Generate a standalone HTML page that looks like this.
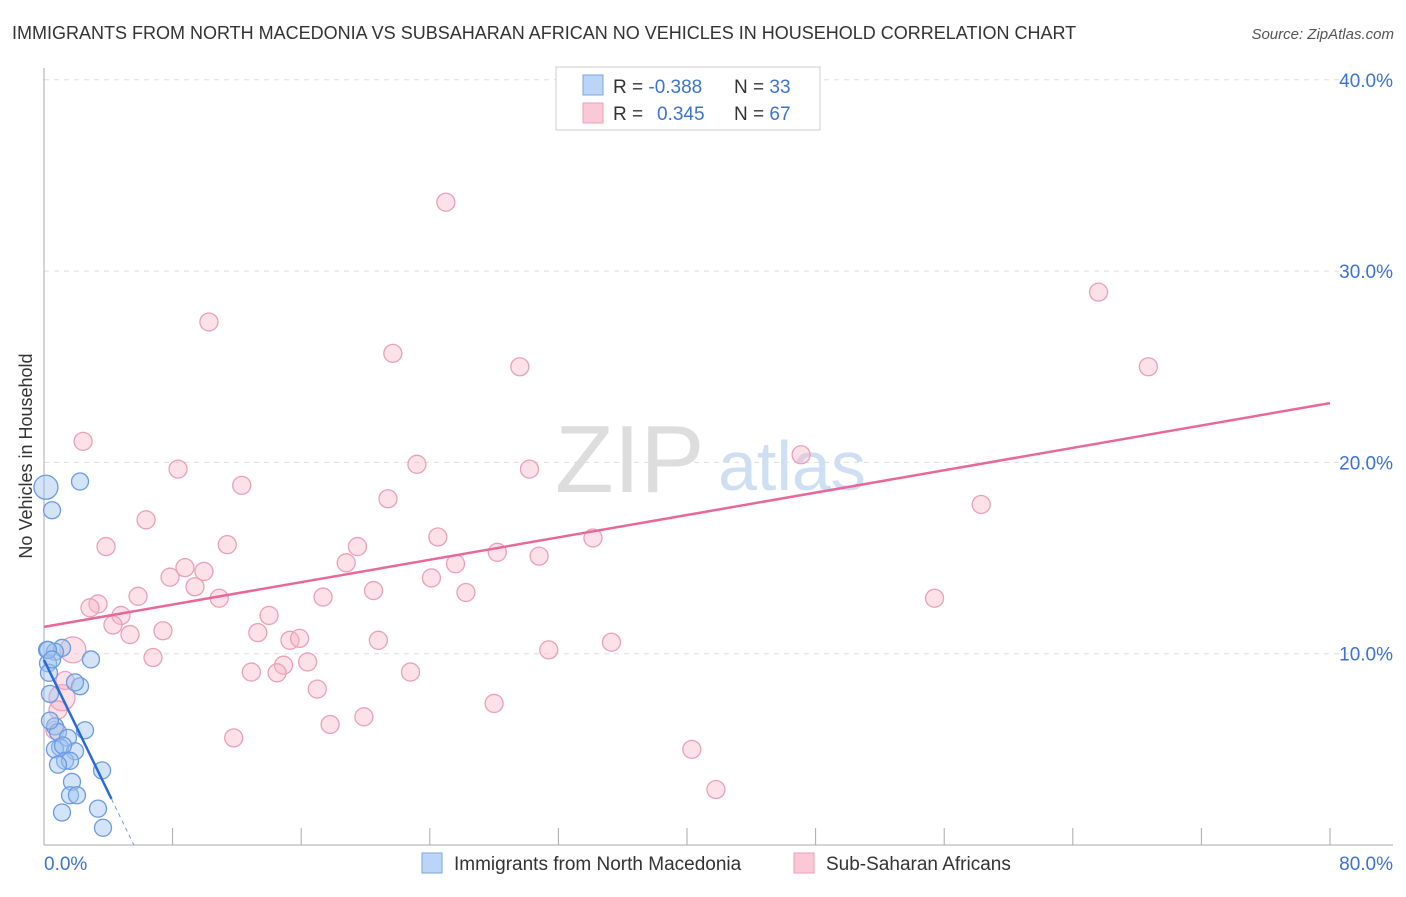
<!DOCTYPE html>
<html><head><meta charset="utf-8"><style>
body{margin:0;background:#fff;font-family:"Liberation Sans",sans-serif;}
svg text{font-family:"Liberation Sans",sans-serif;}
</style></head><body>
<svg id="chart" width="1406" height="892">
<text x="12" y="39" font-size="18" fill="#333">IMMIGRANTS FROM NORTH MACEDONIA VS SUBSAHARAN AFRICAN NO VEHICLES IN HOUSEHOLD CORRELATION CHART</text>
<text x="1394" y="39" font-size="15" fill="#555" font-style="italic" text-anchor="end">Source: ZipAtlas.com</text>
<text x="32" y="456" font-size="18" fill="#333" text-anchor="middle" transform="rotate(-90 32 456)">No Vehicles in Household</text>
<text x="555" y="492" font-size="96" fill="#ddd" font-family="Liberation Serif">ZIP</text>
<text x="718" y="490" font-size="70" fill="#cfdff3">atlas</text>
<g id="grid"></g>
<g id="axes"></g>
<g id="pts"></g>
<g id="lines"></g>
<g>
<rect x="556" y="67" width="264" height="63" fill="#fff" stroke="#ccc"/>
<rect x="583" y="75" width="20" height="20" fill="#bcd4f5" stroke="#7aa6e0"/>
<rect x="583" y="103" width="20" height="20" fill="#fac8d6" stroke="#ec9fb7"/>
<text x="613" y="93" font-size="19" fill="#333">R = <tspan fill="#3b73d3">-0.388</tspan></text>
<text x="734" y="93" font-size="19" fill="#333">N = <tspan fill="#3b73d3">33</tspan></text>
<text x="613" y="120" font-size="19" fill="#333">R = <tspan fill="#3b73d3" x="657">0.345</tspan></text>
<text x="734" y="120" font-size="19" fill="#333">N = <tspan fill="#3b73d3">67</tspan></text>
</g>
<g>
<rect x="422" y="853" width="20" height="20" fill="#bcd4f5" stroke="#7aa6e0"/>
<text x="454" y="870" font-size="19" fill="#333">Immigrants from North Macedonia</text>
<rect x="794" y="853" width="20" height="20" fill="#fac8d6" stroke="#ec9fb7"/>
<text x="826" y="870" font-size="19" fill="#333">Sub-Saharan Africans</text>
</g>
</svg>
<script>
const yTicks=[10,20,30,40];
const yTickLabels=["10.0%","20.0%","30.0%","40.0%"];
const xTickLabels=["0.0%","80.0%"];
const blueX=[0.12,0.5,2.24,0.19,1.12,0.68,0.25,2.92,0.31,2.24,1.93,0.37,0.68,2.55,0.87,1.49,1.0,1.93,0.68,1.18,1.31,1.62,0.87,3.61,1.74,1.62,2.05,3.36,1.12,3.67,0.37,0.25,0.5];
const blueY=[18.7,17.5,19.0,10.2,10.3,10.1,9.5,9.7,9.0,8.3,8.5,7.9,6.2,6.0,5.9,5.6,5.1,4.9,5.0,5.2,4.4,4.4,4.2,3.9,3.3,2.6,2.6,1.9,1.7,0.9,6.5,10.2,9.7];
const pinkX=[2.43,8.34,10.26,25.0,40.6,21.7,29.6,65.6,68.7,47.1,58.3,55.4,23.2,30.2,21.4,6.35,12.3,3.86,11.4,24.5,34.15,28.2,30.8,19.5,25.6,18.8,8.77,9.95,7.84,9.39,24.1,20.5,26.25,17.36,10.9,5.85,3.36,2.86,4.79,4.29,14.0,7.4,5.35,13.3,15.3,15.9,20.8,35.3,31.4,6.78,16.4,14.9,12.9,14.5,22.8,17.0,28.0,19.9,17.8,11.8,40.3,41.8,1.8,1.12,0.87,1.31,0.68];
const pinkY=[21.1,19.65,27.34,33.6,37.9,25.7,25.0,28.9,25.0,20.4,17.8,12.9,19.9,19.65,18.1,17.0,18.8,15.6,15.7,16.1,16.05,15.3,15.1,15.6,14.7,14.75,14.5,14.3,14.0,13.5,13.96,13.3,13.2,12.96,12.9,13.0,12.6,12.4,12.0,11.5,12.0,11.2,11.0,11.1,10.7,10.8,10.7,10.6,10.2,9.8,9.57,9.4,9.04,9.0,9.04,8.15,7.4,6.7,6.3,5.6,5.0,2.9,10.2,7.7,7.06,8.6,6.0];
const pinkTrend=[11.4,23.1];
const blueTrend=[9.67,-1.73];
const NS="http://www.w3.org/2000/svg";
const X=v=>44+v*16.075, Y=v=>845-v*19.13;
function mk(tag,attrs,parent){const e=document.createElementNS(NS,tag);for(const k in attrs)e.setAttribute(k,attrs[k]);document.getElementById(parent).appendChild(e);return e;}
yTicks.forEach((t,i)=>{
 const g=mk('line',{x1:44,x2:1393,y1:Y(t),y2:Y(t),stroke:'#ddd','stroke-dasharray':'5,5'},'grid');
 
 
 const tx=mk('text',{x:1393,y:Y(t)+7,'font-size':19,fill:'#3b73d3','text-anchor':'end'},'grid');
 tx.textContent=yTickLabels[i];
 
 
});
const ax=mk('line',{x1:44,x2:44,y1:68,y2:845,stroke:'#aaa'},'axes');


const bx=mk('line',{x1:44,x2:1393,y1:845,y2:845,stroke:'#aaa'},'axes');


for(let i=1;i<=10;i++){const t=mk('line',{x1:X(i*8),x2:X(i*8),y1:828,y2:845,stroke:'#aaa'},'axes');
 
 }
[[0,'start',44],[80,'end',1393]].forEach((d,i)=>{const t=mk('text',{x:d[2],y:870,'font-size':19,fill:'#3b73d3','text-anchor':d[1]},'axes');t.textContent=xTickLabels[i];
 
 });
pinkX.forEach((x,i)=>{const c=mk('circle',{cx:X(x),cy:Y(pinkY[i]),r:(i>=62&&i<=63)?13:9,fill:'rgba(248,180,200,0.4)',stroke:'#eaa0b8','stroke-width':1.3},'pts');
 
 });
blueX.forEach((x,i)=>{const c=mk('circle',{cx:X(x),cy:Y(blueY[i]),r:i==0?12:8.5,fill:'rgba(160,195,240,0.45)',stroke:'#6b9be0','stroke-width':1.3},'pts');
 
 });
const pl=mk('line',{x1:X(0),y1:Y(pinkTrend[0]),x2:X(80),y2:Y(pinkTrend[1]),stroke:'#e8689a','stroke-width':2.5},'lines');


const xe=4.2, x0=-blueTrend[0]/blueTrend[1];
const bl=mk('line',{x1:X(0),y1:Y(blueTrend[0]),x2:X(xe),y2:Y(blueTrend[0]+blueTrend[1]*xe),stroke:'#2a6ad8','stroke-width':2.5},'lines');


const bd=mk('line',{x1:X(xe),y1:Y(blueTrend[0]+blueTrend[1]*xe),x2:X(x0),y2:Y(0),stroke:'#6b9be0','stroke-width':1,'stroke-dasharray':'4,4'},'lines');


</script>
</body></html>
